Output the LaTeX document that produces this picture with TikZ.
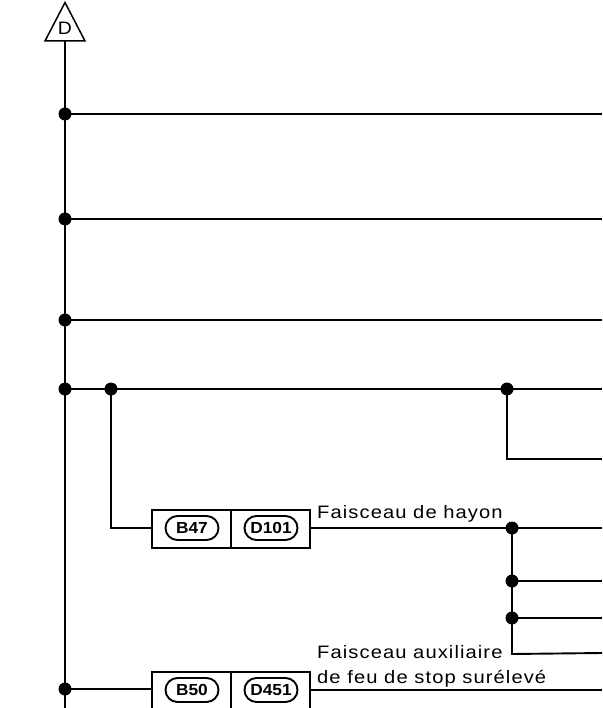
\documentclass[tikz,border=0pt]{standalone}
\usepackage{fontspec}
\setmainfont[FakeStretch=1.08]{Liberation Sans}
\newfontfamily\spaced[LetterSpace=6,FakeStretch=1.12]{Liberation Sans}
\usetikzlibrary{shapes.misc}
\tikzset{
  x=1pt,y=-1pt,
  wire/.style={line width=1.9pt,black,line join=miter},
  dotj/.style={circle,fill=black,draw=none,minimum size=13pt,inner sep=0pt},
  cell/.style={draw=black,line width=1.5pt,minimum height=38pt,inner sep=0pt,outer sep=0pt,anchor=west},
  pill/.style={rounded rectangle,draw=black,line width=1.9pt,font=\bfseries\fontsize{16}{16}\selectfont,inner sep=0pt,minimum height=24pt,text height=11.5pt,text depth=0pt},
  lab/.style={font=\spaced\fontsize{18}{18}\selectfont,anchor=base west,inner sep=0pt,align=left},
  tri/.style={draw=black,line width=1.5pt,line join=miter}
}
\begin{document}
\begin{tikzpicture}
\useasboundingbox[fill=white] (0,0) rectangle (602,708);
% free ends
\coordinate (top) at (65,41);
\coordinate (bot) at (65,708);
\node[dotj] (j1) at (65,114) {};
\node[dotj] (j2) at (65,219) {};
\node[dotj] (j3) at (65,320) {};
\node[dotj] (j4) at (65,389) {};
\node[dotj] (j5) at (65,689) {};
\node[dotj] (k1) at (111,389) {};
\node[dotj] (k2) at (507,389) {};
\node[dotj] (m1) at (512,528) {};
\node[dotj] (m2) at (512,581) {};
\node[dotj] (m3) at (512,618) {};
\coordinate (m4) at (512,654);
\coordinate (e1) at (602,114);
\coordinate (e2) at (602,219);
\coordinate (e3) at (602,320);
\coordinate (e4) at (602,389);
\coordinate (e5) at (602,459);
\coordinate (e6) at (602,528);
\coordinate (e7) at (602,581);
\coordinate (e8) at (602,618);
\coordinate (e9) at (602,653);
\coordinate (e10) at (602,690);
\draw[wire] (top) -- (bot);
\draw[wire] (j1.center) -- (e1);
\draw[wire] (j2.center) -- (e2);
\draw[wire] (j3.center) -- (e3);
\draw[wire] (j4.center) -- (e4);
\draw[wire] (k2.center) |- (e5);
% connector blocks
\node[cell,minimum width=79pt] (b47box) at (152,529) {};
\node[cell,minimum width=79pt] (d101box) at (231,529) {};
\node[cell,minimum width=79pt] (b50box) at (152,691) {};
\node[cell,minimum width=79pt] (d451box) at (231,691) {};
\node[pill,minimum width=53pt] (b47) at (192,528) {B47};
\node[pill,minimum width=53pt] (d101) at (271,528) {D101};
\node[pill,minimum width=53pt] (b50) at (192,690) {B50};
\node[pill,minimum width=53pt] (d451) at (271,690) {D451};
\draw[wire] (k1.center) |- (b47box.west |- e6);
\draw[wire] (d101box.east |- e6) -- (e6);
\draw[wire] (j5.center) -- (b50box.west |- j5.center);
\draw[wire] (d451box.east |- e10) -- (e10);
\draw[wire] (m1.center) -- (m4) -- (e9);
\draw[wire] (m2.center) -- (e7);
\draw[wire] (m3.center) -- (e8);
% triangle
\node[inner sep=0pt,font=\fontsize{18}{18}\selectfont] (dlab) at (65,28.5) {D};
\draw[tri] (65,2.5) -- (85,41) -- (45,41) -- cycle;
% labels
\node[lab] (t1) at (317,518) {Faisceau de hayon};
\node[lab] (t2) at (317,658) {Faisceau auxiliaire};
\node[lab] (t3) at (317,683) {de feu de stop surélevé};
\end{tikzpicture}
\end{document}
